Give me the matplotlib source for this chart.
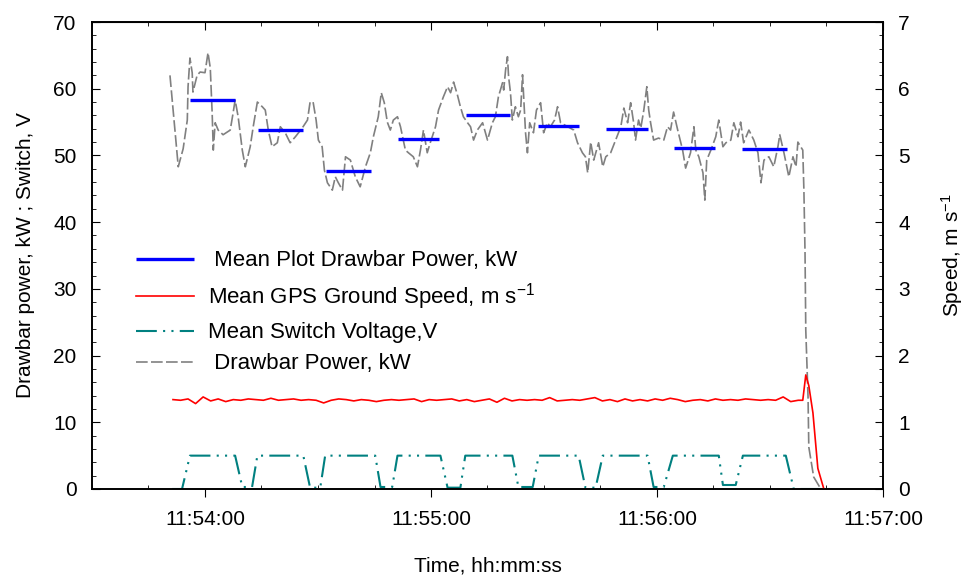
import numpy as np
import matplotlib
matplotlib.use('Agg')
import matplotlib.pyplot as plt
import matplotlib.dates as mdates
from matplotlib.ticker import MultipleLocator

plt.rcParams['font.family'] = ['Liberation Sans', 'DejaVu Sans']
plt.rcParams['mathtext.fontset'] = 'custom'
plt.rcParams['mathtext.rm'] = 'Liberation Sans'
plt.rcParams['mathtext.it'] = 'Liberation Sans:italic'

# tiempo en segundos desde 11:53:30
t_power = [20.7, 22.9, 24.2, 25.3, 25.5, 26.0, 26.6, 26.8, 27.9, 28.7, 30.0, 30.8, 31.4, 31.9,
           32.2, 32.7, 33.5, 34.8, 36.7, 37.5, 38.0, 38.8, 39.9, 40.7, 42.0, 42.8, 43.9, 45.2,
           46.0, 46.8, 47.8, 49.2, 50.0, 51.3, 52.6, 54.0, 55.8, 57.2, 57.9, 58.7, 59.5, 60.1,
           61.1, 61.7, 62.5, 63.8, 64.6, 65.4, 66.5, 67.3, 68.6, 69.9, 71.2, 72.6, 73.9, 74.7,
           76.0, 76.8, 77.6, 78.4, 79.2, 80.0, 81.1, 81.9, 83.2, 84.0, 85.3, 86.4, 87.2, 88.0,
           89.0, 89.8, 91.2, 92.0, 93.3, 94.4, 95.2, 96.0, 97.0, 97.8, 98.6, 99.7, 100.5, 101.3,
           102.3, 103.7, 105.0, 106.3, 107.1, 107.9, 109.0, 109.3, 109.8, 110.3, 110.6, 111.1,
           111.6, 112.4, 113.2, 113.8, 114.3, 114.6, 115.1, 115.6, 116.2, 117.2, 118.0, 119.1,
           119.9, 120.9, 121.7, 122.8, 123.6, 124.4, 126.3, 127.9, 128.9, 130.2, 131.0, 131.6,
           132.4, 133.2, 134.5, 135.6, 136.4, 137.7, 139.0, 140.4, 141.2, 142.2, 143.0, 143.8,
           144.3, 145.1, 145.7, 146.5, 147.3, 147.8, 148.3, 149.1, 150.4, 151.8, 152.8, 153.6,
           154.4, 155.5, 156.8, 157.6, 158.9, 159.8, 160.3, 161.1, 162.2, 162.7, 163.2, 164.3,
           165.6, 166.4, 167.5, 168.3, 169.6, 170.4, 171.5, 172.2, 173.0, 174.4, 175.7, 176.8,
           177.6, 178.4, 179.7, 181.0, 182.1, 182.6, 183.7, 185.0, 186.1, 186.9, 187.4, 188.7,
           189.0, 189.3, 189.5, 190.1, 190.3, 191.6, 193.5]
power = [62.0, 48.3, 51.0, 55.3, 60.3, 64.6, 62.4, 59.5, 62.0, 62.5, 62.4, 65.4, 63.1, 56.4,
         50.8, 54.9, 53.8, 53.1, 53.8, 56.5, 58.3, 55.8, 50.8, 48.3, 51.3, 54.3, 58.0, 57.3,
         56.8, 53.8, 51.3, 51.9, 54.3, 53.4, 51.9, 52.8, 54.1, 55.3, 58.0, 58.0, 55.3, 52.3,
         51.3, 47.8, 45.9, 44.8, 46.8, 45.9, 44.8, 49.8, 49.3, 46.8, 45.3, 48.3, 50.4, 52.8,
         55.8, 59.4, 57.9, 55.0, 53.8, 55.3, 55.8, 54.3, 50.8, 50.4, 49.8, 48.3, 50.8, 53.8,
         50.4, 51.9, 54.3, 56.8, 58.8, 60.3, 59.4, 61.0, 59.1, 57.3, 55.8, 54.9, 54.3, 52.3,
         53.8, 54.9, 52.3, 54.9, 55.8, 58.8, 60.9, 59.8, 62.8, 64.8, 61.8, 59.4,
         55.3, 57.3, 55.8, 56.8, 62.1, 58.8, 53.4, 50.4, 54.9, 53.4, 56.8, 57.9,
         53.4, 54.9, 54.3, 55.3, 57.3, 54.9, 54.3, 53.8, 51.9, 50.4, 49.8, 47.4,
         52.0, 49.3, 51.9, 48.3, 49.8, 50.4, 52.3, 54.3, 57.1, 54.9, 57.9, 54.9,
         52.3, 55.3, 54.1, 56.8, 60.3, 56.8, 54.9, 52.3, 52.6, 52.3, 54.3, 53.8,
         56.5, 53.8, 50.8, 48.1, 50.4, 54.3, 50.8, 49.8, 47.4, 43.3, 49.3, 50.8,
         52.8, 55.3, 51.3, 51.9, 52.3, 54.9, 52.8, 55.0, 51.9, 53.8, 52.3, 50.4,
         45.9, 49.3, 49.8, 48.3, 51.3, 53.1, 50.4, 46.8, 49.8, 48.3, 52.0, 50.8,
         44.8, 35.4, 23.8, 13.8, 6.3, 1.8, 0.0]

# medias por parcela
mean_start = [26.0, 44.1, 62.2, 81.3, 99.4, 118.3, 136.4, 154.4, 172.5]
mean_end = [38.0, 56.1, 74.2, 92.2, 111.1, 129.2, 147.6, 165.3, 184.5]
mean_power = [58.3, 53.8, 47.7, 52.5, 56.1, 54.4, 53.9, 51.1, 51.0]

# voltaje del interruptor
t_switch = [21.3, 23.9, 26.0, 38.0, 39.9, 42.5, 43.9, 56.1, 57.9, 60.6, 61.9, 75.2, 76.6, 79.7,
            81.1, 92.5, 94.4, 97.8, 99.1, 111.6, 113.2, 117.0, 118.6, 129.2, 131.0, 133.7,
            135.6, 147.5, 149.1, 151.8, 154.2, 166.4, 167.5, 170.9, 172.8, 184.2, 186.3, 196.2]
switch = [0, 0, 5, 5, 0.3, 0.3, 5, 5, 0.2, 0.2, 5, 5, 0.3, 0.3,
          5, 5, 0.2, 0.2, 5, 5, 0.3, 0.3, 5, 5, 0.2, 0.2,
          5, 5, 0.3, 0.3, 5, 5, 0.6, 0.6, 5, 5, 0, 0]

# velocidad GPS, cada 2 s y luego el final
t_speed = list(np.arange(21.5, 188.0, 2.0)) + [188.7, 189.5, 190.3, 191.4, 192.7, 194.3]
speed = [1.34, 1.33, 1.35, 1.28, 1.38, 1.32, 1.35, 1.31, 1.34, 1.33, 1.35, 1.34, 1.33, 1.36,
         1.33, 1.34, 1.35, 1.33, 1.34, 1.33, 1.29, 1.33, 1.35, 1.34, 1.32, 1.34, 1.33, 1.31,
         1.33, 1.34, 1.33, 1.34, 1.35, 1.31, 1.34, 1.33, 1.34, 1.35, 1.32, 1.34, 1.31, 1.33,
         1.35, 1.30, 1.36, 1.32, 1.34, 1.33, 1.34, 1.33, 1.37, 1.32, 1.33, 1.34, 1.33, 1.35,
         1.37, 1.32, 1.34, 1.31, 1.35, 1.32, 1.34, 1.32, 1.35, 1.33, 1.36, 1.34, 1.31, 1.33,
         1.34, 1.32, 1.35, 1.33, 1.34, 1.33, 1.35, 1.34, 1.33, 1.34, 1.33, 1.38, 1.31, 1.33,
         1.33, 1.71, 1.55, 1.14, 0.31, 0.0]

base = np.datetime64('2000-01-01T11:53:30')


def to_time(secs):
    return base + (np.array(secs) * 1000).astype('timedelta64[ms]')


fig = plt.figure(figsize=(9.64, 5.79), dpi=100)
ax = fig.add_axes([92 / 964, 1 - 489 / 579, 791 / 964, 467 / 579])
ax2 = ax.twinx()

ax.plot(to_time(t_power), power, color='#808080', lw=1.2, dashes=(7, 2), zorder=2,
        label=' Drawbar Power, kW')
for i in range(len(mean_power)):
    ax.plot(to_time([mean_start[i], mean_end[i]]), [mean_power[i], mean_power[i]],
            color='#0000FF', lw=2.4, solid_capstyle='butt', zorder=3,
            label=' Mean Plot Drawbar Power, kW' if i == 0 else None)
ax.plot(to_time(t_switch), switch, color='#008080', lw=1.5, dashes=(10, 3, 1, 3, 1, 3),
        zorder=2, label='Mean Switch Voltage,V')
ax2.plot(to_time(t_speed), speed, color='#FF0000', lw=1.2,
         label='Mean GPS Ground Speed, m s$^{-1}$')

ax.set_xlim(to_time(0), to_time(210))
ax.set_ylim(0, 70)
ax2.set_ylim(0, 7)

ax.xaxis.set_major_locator(mdates.SecondLocator(bysecond=[0]))
ax.xaxis.set_minor_locator(mdates.SecondLocator(bysecond=[15, 30, 45]))
ax.xaxis.set_major_formatter(mdates.DateFormatter('%H:%M:%S'))
ax.yaxis.set_major_locator(MultipleLocator(10))
ax.yaxis.set_minor_locator(MultipleLocator(2))
ax2.yaxis.set_major_locator(MultipleLocator(1))
ax2.yaxis.set_minor_locator(MultipleLocator(0.2))

ax.tick_params(axis='x', which='major', direction='out', length=6, pad=9, labelsize=15, top=False)
ax.tick_params(axis='x', which='minor', direction='in', length=3, top=False)
ax.tick_params(axis='y', which='major', direction='in', length=6, pad=11, labelsize=15)
ax.tick_params(axis='y', which='minor', direction='in', length=3)
ax2.tick_params(axis='y', which='major', direction='in', length=6, pad=11, labelsize=15)
ax2.tick_params(axis='y', which='minor', direction='in', length=3)

top = ax.secondary_xaxis('top')
top.xaxis.set_major_locator(mdates.SecondLocator(bysecond=[0]))
top.xaxis.set_minor_locator(mdates.SecondLocator(bysecond=[15, 30, 45]))
top.tick_params(which='major', direction='in', length=6, labeltop=False)
top.tick_params(which='minor', direction='in', length=3)

for a in (ax, ax2):
    for s in a.spines.values():
        s.set_linewidth(1.2)

ax.set_xlabel('Time, hh:mm:ss', fontsize=15, labelpad=20)
ax.set_ylabel('Drawbar power, kW ; Switch, V', fontsize=15, labelpad=13)
ax2.set_ylabel('Speed, m s$^{-1}$', fontsize=15, rotation=90, labelpad=21)

h1, l1 = ax.get_legend_handles_labels()
h2, l2 = ax2.get_legend_handles_labels()
handles = [h1[1], h2[0], h1[2], h1[0]]
labels = [l1[1], l2[0], l1[2], l1[0]]
ax2.legend(handles, labels, loc='upper left', bbox_to_anchor=(0.045, 0.53), frameon=False,
           fontsize=16, handlelength=2.6, handletextpad=0.6, labelspacing=0.45,
           borderaxespad=0)

fig.savefig('out.png', dpi=100)
